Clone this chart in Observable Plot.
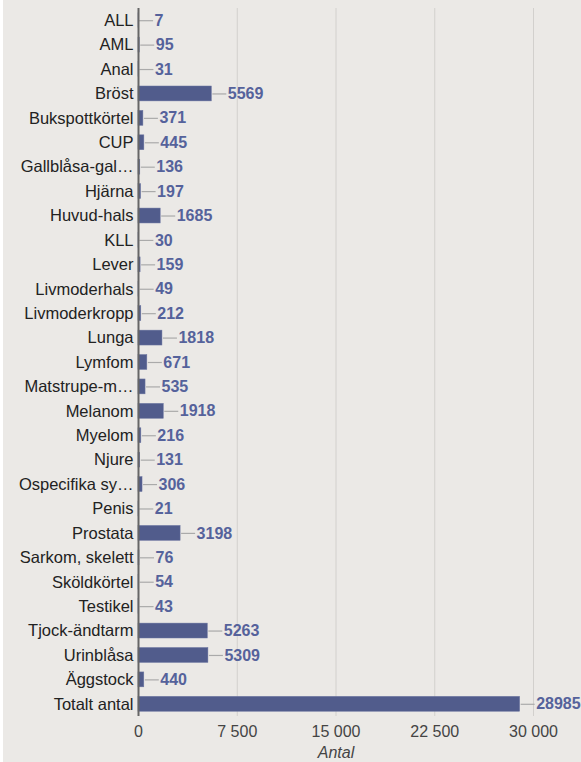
<!DOCTYPE html>
<html>
<head>
<meta charset="utf-8">
<script src="https://cdn.jsdelivr.net/npm/d3@7"></script>
<script src="https://cdn.jsdelivr.net/npm/@observablehq/plot@0.6"></script>
<style>
  html, body { margin: 0; padding: 0; background: #ffffff; }
  #wrap { margin-left: 3px; width: 578px; height: 762px; background: #ebe9e6; overflow: hidden; }
  svg { display: block; }
  g[aria-label="x-axis label"] text { font-style: italic; }
</style>
</head>
<body>
<div id="wrap"></div>
<script>
const categories = ["ALL","AML","Anal","Bröst","Bukspottkörtel","CUP","Gallblåsa-gal…","Hjärna","Huvud-hals","KLL","Lever","Livmoderhals","Livmoderkropp","Lunga","Lymfom","Matstrupe-m…","Melanom","Myelom","Njure","Ospecifika sy…","Penis","Prostata","Sarkom, skelett","Sköldkörtel","Testikel","Tjock-ändtarm","Urinblåsa","Äggstock","Totalt antal"];
const values = [7,95,31,5569,371,445,136,197,1685,30,159,49,212,1818,671,535,1918,216,131,306,21,3198,76,54,43,5263,5309,440,28985];
const xTicks = [0,7500,15000,22500,30000];

const data = categories.map((c, i) => ({category: c, value: values[i]}));

const W = 578, marginLeft = 135, marginRight = 48;
const pxPerUnit = (W - marginLeft - marginRight) / 30000;
const leader = 15 / pxPerUnit;

const fmt = d => d3.format(",")(d).replace(/,/g, " ");

const chart = Plot.plot({
  width: W,
  height: 762,
  marginLeft,
  marginRight,
  marginTop: 8,
  marginBottom: 46,
  style: {background: "transparent", fontFamily: "'Liberation Sans', Arial, sans-serif", fontSize: "16px", color: "#333"},
  x: {domain: [0, 30000], ticks: xTicks, label: "Antal", labelAnchor: "center", labelArrow: "none", tickFormat: fmt},
  y: {domain: categories, paddingInner: 0.39, paddingOuter: 0.195, round: false, label: null},
  marks: [
    Plot.gridX(xTicks.filter(d => d > 0), {stroke: "#d2d0cd", strokeOpacity: 1, strokeWidth: 1}),
    Plot.barX(data, {y: "category", x: "value", fill: "#515c8c", stroke: "#6a74a0", strokeWidth: 0.5}),
    Plot.ruleY(data, {y: "category", x1: d => d.value + 1 / pxPerUnit, x2: d => d.value + leader, stroke: "#aaaaaa", strokeWidth: 1.2}),
    Plot.text(data, {y: "category", x: d => d.value + leader, text: d => String(d.value), textAnchor: "start", dx: 1, fill: "#55629b", fontWeight: "bold", fontSize: 16}),
    Plot.axisY({tickSize: 0, tickPadding: 5, fontSize: 16.5, fill: "#222", label: null}),
    Plot.axisX({ticks: xTicks, tickFormat: fmt, tickSize: 0, tickPadding: 9, fontSize: 16, fill: "#444", label: "Antal", labelAnchor: "center", labelOffset: 41, labelArrow: "none"}),
    Plot.ruleX([0], {stroke: "#666", strokeWidth: 2})
  ]
});
document.getElementById("wrap").appendChild(chart);
</script>
</body>
</html>
